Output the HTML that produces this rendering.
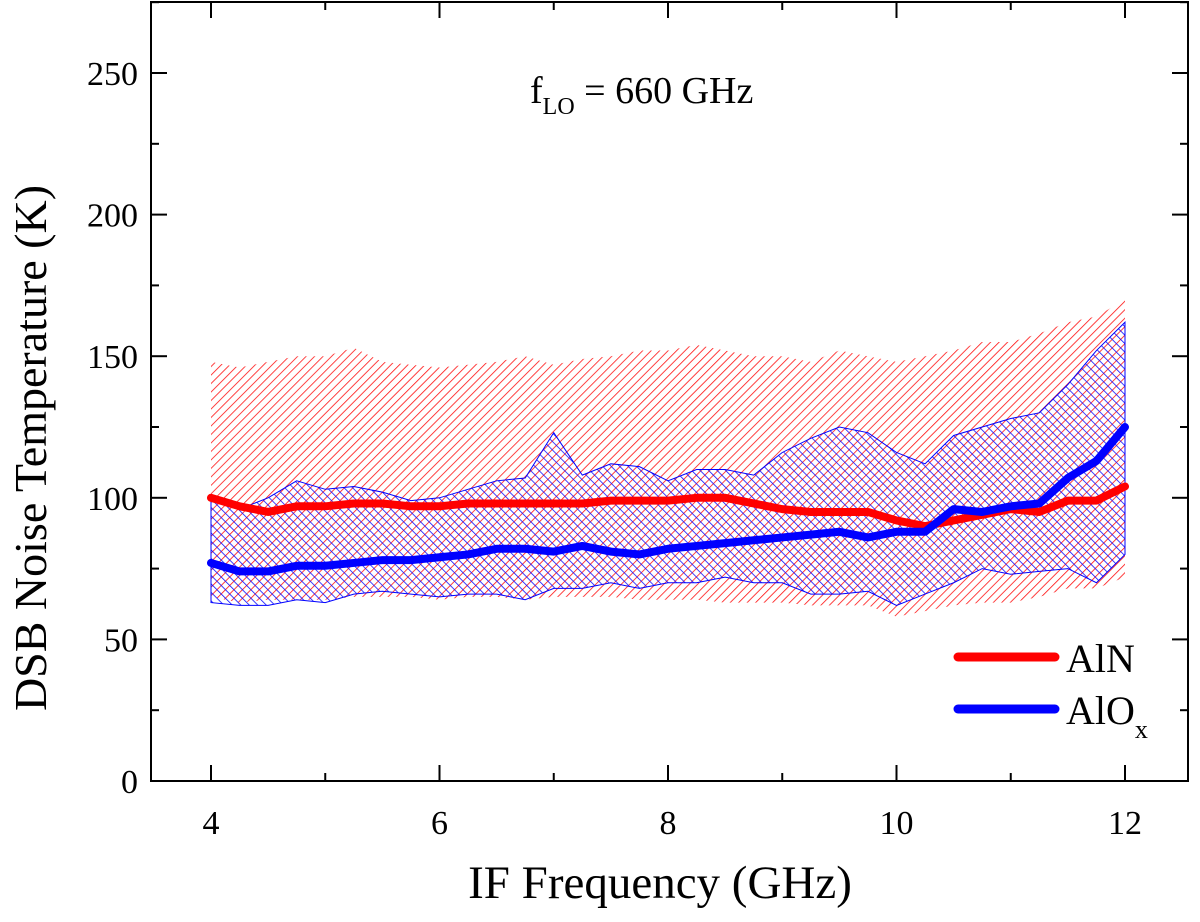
<!DOCTYPE html>
<html><head><meta charset="utf-8"><style>
body{margin:0;background:#fff}
svg{font-family:"Liberation Serif",serif}
</style></head><body>
<svg width="1200" height="917" viewBox="0 0 1200 917">
<defs>
<pattern id="redHatch" width="6" height="6" patternUnits="userSpaceOnUse" patternTransform="rotate(45)">
<line x1="0" y1="0" x2="0" y2="6" stroke="#ff1010" stroke-width="1.6"/></pattern>
<pattern id="blueHatch" width="6" height="6" patternUnits="userSpaceOnUse" patternTransform="rotate(-45)">
<line x1="0" y1="0" x2="0" y2="6" stroke="#1010ff" stroke-width="1.6"/></pattern>
</defs>
<g id="plot"></g>
<rect x="151" y="2" width="1037" height="779" fill="none" stroke="#000" stroke-width="2"/>
<g id="axes"></g>
<text x="530" y="103" font-size="38">f<tspan font-size="24" dy="11">LO</tspan><tspan dy="-11"> = 660 GHz</tspan></text>
<text x="660" y="898" font-size="47" text-anchor="middle">IF Frequency (GHz)</text>
<text transform="translate(46,448) rotate(-90)" font-size="46" text-anchor="middle">DSB Noise Temperature (K)</text>
<g>
<line x1="958" y1="657" x2="1055" y2="657" stroke="#ff0000" stroke-width="9" stroke-linecap="round"/>
<text x="1066" y="672" font-size="40">AlN</text>
<line x1="958" y1="709" x2="1055" y2="709" stroke="#0000ff" stroke-width="9" stroke-linecap="round"/>
<text x="1066" y="724" font-size="40">AlO<tspan font-size="26" dy="14">x</tspan></text>
</g>
</svg>
<script>
const freqs=[4,4.25,4.5,4.75,5,5.25,5.5,5.75,6,6.25,6.5,6.75,7,7.25,7.5,7.75,8,8.25,8.5,8.75,9,9.25,9.5,9.75,10,10.25,10.5,10.75,11,11.25,11.5,11.75,12];
const alnMean=[100,97,95,97,97,98,98,97,97,98,98,98,98,98,99,99,99,100,100,98,96,95,95,95,92,90,92,94,96,95,99,99,104];
const alnUpper=[148,146,148,150,150,153,148,147,146,147,148,150,147,149,150,152,152,154,152,150,150,148,152,150,148,150,152,155,155,158,162,164,170];
const alnLower=[65,63,64,64,64,65,65,65,64,65,65,64,65,65,65,64,64,64,63,63,63,62,62,62,58,60,62,63,63,65,68,68,72];
const aloxMean=[77,74,74,76,76,77,78,78,79,80,82,82,81,83,81,80,82,83,84,85,86,87,88,86,88,88,96,95,97,98,107,113,125];
const aloxUpper=[100,96,100,106,103,104,102,99,100,103,106,107,123,108,112,111,106,110,110,108,116,121,125,123,116,112,122,125,128,130,140,152,162];
const aloxLower=[63,62,62,64,63,66,67,66,65,66,66,64,68,68,70,68,70,70,72,70,70,66,66,67,62,66,70,75,73,74,75,70,80];
const xTicks=[4,6,8,10,12];
const yTicks=[0,50,100,150,200,250];
const NS='http://www.w3.org/2000/svg';
const X=v=>211+(v-4)*114.25;
const Y=v=>781-v*2.832;
const plot=document.getElementById('plot'),axes=document.getElementById('axes');
function mk(t,a,p){const e=document.createElementNS(NS,t);for(const k in a)e.setAttribute(k,a[k]);p.appendChild(e);return e;}
function band(up,lo){let d='M'+freqs.map((f,i)=>X(f)+','+Y(up[i])).join('L');for(let i=freqs.length-1;i>=0;i--)d+='L'+X(freqs[i])+','+Y(lo[i]);return d+'Z';}
function line(v){return 'M'+freqs.map((f,i)=>X(f)+','+Y(v[i])).join('L');}
let e=mk('path',{d:band(alnUpper,alnLower),fill:'url(#redHatch)'},plot);


e=mk('path',{d:band(aloxUpper,aloxLower),fill:'url(#blueHatch)',stroke:'#0000ff','stroke-width':1},plot);


e=mk('path',{d:line(alnMean),fill:'none',stroke:'#ff0000','stroke-width':8,'stroke-linejoin':'round','stroke-linecap':'round'},plot);


e=mk('path',{d:line(aloxMean),fill:'none',stroke:'#0000ff','stroke-width':8,'stroke-linejoin':'round','stroke-linecap':'round'},plot);


for(let v=4;v<=12;v+=1){const maj=xTicks.includes(v),L=maj?16:8;
e=mk('line',{x1:X(v),x2:X(v),y1:781,y2:781-L,stroke:'#000','stroke-width':2},axes);


e=mk('line',{x1:X(v),x2:X(v),y1:2,y2:2+L,stroke:'#000','stroke-width':2},axes);

}
xTicks.forEach(v=>{e=mk('text',{x:X(v),y:834,'font-size':34,'text-anchor':'middle'},axes);e.textContent=v;

});
for(let v=0;v<=275;v+=25){const maj=yTicks.includes(v),L=maj?16:8;
e=mk('line',{x1:151,x2:151+L,y1:Y(v),y2:Y(v),stroke:'#000','stroke-width':2},axes);


e=mk('line',{x1:1188,x2:1188-L,y1:Y(v),y2:Y(v),stroke:'#000','stroke-width':2},axes);

}
yTicks.forEach(v=>{e=mk('text',{x:138,y:Y(v)+12,'font-size':34,'text-anchor':'end'},axes);e.textContent=v;

});
</script>
</body></html>
